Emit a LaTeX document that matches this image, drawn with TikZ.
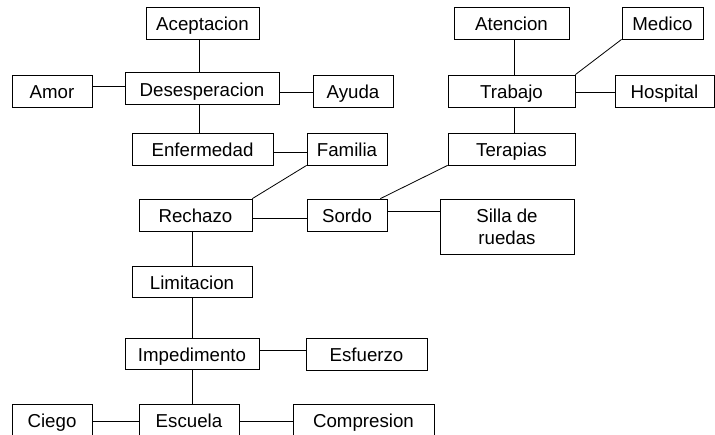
\documentclass[tikz,border=0pt]{standalone}
\usepackage{fontspec}
\setmainfont{Liberation Sans}
\begin{document}
\begin{tikzpicture}[x=1pt,y=-1pt,
  box/.style={draw, line width=0.8pt, inner sep=0pt, minimum height=32pt,
    font=\fontsize{18.7}{22}\selectfont, align=center},
  onebox/.style={box, text height=15.4pt, text depth=0pt},
  link/.style={line width=0.8pt}]
\useasboundingbox (0,0) rectangle (715,435);
\clip (0,0) rectangle (715,435);
% left column
\node[onebox, minimum width=113pt] (acep) at (202.5,23) {Aceptacion};
\node[onebox, minimum width=154pt] (des) at (202,88.5) {Desesperacion};
\node[onebox, minimum width=80pt] (amor) at (52,91) {Amor};
\node[onebox, minimum width=80pt] (ayuda) at (353,91) {Ayuda};
\node[onebox, minimum width=141pt] (enf) at (202.5,149) {Enfermedad};
\node[onebox, minimum width=80pt] (fam) at (347,149) {Familia};
\node[onebox, minimum width=113pt] (rech) at (195.5,215) {Rechazo};
\node[onebox, minimum width=80pt] (sordo) at (347,215) {Sordo};
\node[onebox, minimum width=120pt, minimum height=31pt] (lim) at (192,281.5) {Limitacion};
\node[onebox, minimum width=134pt, minimum height=31pt] (imp) at (192,353.5) {Impedimento};
\node[onebox, minimum width=121pt] (esf) at (366.5,354) {Esfuerzo};
\node[onebox, minimum width=100pt] (esc) at (189,420) {Escuela};
\node[onebox, minimum width=80pt] (ciego) at (52,420) {Ciego};
\node[onebox, minimum width=141pt] (comp) at (363.5,420) {Compresion};
% right column
\node[onebox, minimum width=115pt] (aten) at (511.5,23) {Atencion};
\node[onebox, minimum width=81pt] (medico) at (662.5,23) {Medico};
\node[onebox, minimum width=127pt] (trab) at (511.5,91) {Trabajo};
\node[onebox, minimum width=99pt] (hosp) at (664.5,91) {Hospital};
\node[onebox, minimum width=127pt] (terap) at (511.5,149) {Terapias};
\node[box, minimum width=134pt, minimum height=55pt] (silla) at (507,226.5) {Silla de\\ruedas};
% connectors
\draw[link] ([xshift=-3.2pt]acep.south) -- ([xshift=-3.2pt]acep.south |- des.north);
\draw[link] ([xshift=-2.7pt]des.south) -- ([xshift=-2.7pt]des.south |- enf.north);
\draw[link] ([yshift=5pt]amor.east) -- ([yshift=5pt]amor.east -| des.west);
\draw[link] ([yshift=-1.3pt]ayuda.west) -- ([yshift=-1.3pt]ayuda.west -| des.east);
\draw[link] ([yshift=-3.3pt]fam.west) -- ([yshift=-3.3pt]fam.west -| enf.east);
\draw[link] (fam.south west) -- (rech.north east);
\draw[link] ([yshift=-3.3pt]sordo.west) -- ([yshift=-3.3pt]sordo.west -| rech.east);
\draw[link] ([xshift=-7pt]sordo.north east) -- (terap.south west);
\draw[link] ([yshift=4pt]sordo.east) -- ([yshift=4pt]sordo.east -| silla.west);
\draw[link] ([xshift=0.7pt]lim.north) -- ([xshift=0.7pt]lim.north |- rech.south);
\draw[link] ([xshift=0.7pt]lim.south) -- ([xshift=0.7pt]lim.south |- imp.north);
\draw[link] ([yshift=3.5pt]imp.east) -- ([yshift=3.5pt]imp.east -| esf.west);
\draw[link] ([xshift=0.7pt]imp.south) -- ([xshift=0.7pt]imp.south |- esc.north);
\draw[link] ([yshift=-1pt]ciego.east) -- ([yshift=-1pt]ciego.east -| esc.west);
\draw[link] ([yshift=-1pt]esc.east) -- ([yshift=-1pt]esc.east -| comp.west);
\draw[link] ([xshift=2.8pt]aten.south) -- ([xshift=2.8pt]aten.south |- trab.north);
\draw[link] (medico.south west) -- (trab.north east);
\draw[link] ([yshift=-1.3pt]trab.east) -- ([yshift=-1.3pt]trab.east -| hosp.west);
\draw[link] ([xshift=2.8pt]trab.south) -- ([xshift=2.8pt]trab.south |- terap.north);
\end{tikzpicture}
\end{document}
